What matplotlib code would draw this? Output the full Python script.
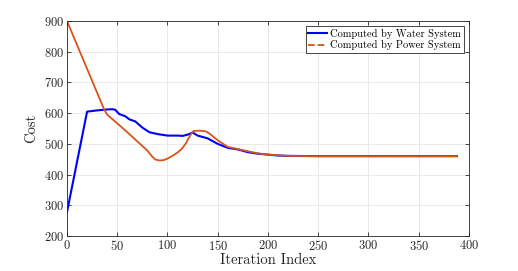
import matplotlib
matplotlib.use('Agg')
import matplotlib.pyplot as plt
from matplotlib.lines import Line2D

plt.rcParams['font.family'] = ['cmr10', 'DejaVu Serif']
plt.rcParams['axes.formatter.use_mathtext'] = True
plt.rcParams['mathtext.fontset'] = 'cm'

# 数据
water_x = [0, 20, 30, 40, 45, 48, 52, 58, 62, 68, 75, 82, 90, 100, 110, 115, 120,
           125, 130, 140, 150, 160, 170, 180, 190, 200, 210, 220, 250, 300, 388]
water_y = [278, 605, 609, 612, 613, 611, 597, 590, 580, 573, 553, 538, 532, 527, 527,
           526, 530, 537, 527, 518, 500, 487, 482, 473, 468, 465, 462, 461, 460, 460, 460]

power_x = [0, 37, 40, 50, 60, 70, 80, 85, 88, 92, 96, 100, 105, 110, 114, 118, 121,
           124, 126, 132, 138, 142, 150, 160, 170, 180, 190, 200, 220, 250, 300, 388]
power_y = [900, 612, 595, 567, 538, 508, 478, 458, 449, 446, 447, 452, 461, 472, 483,
           500, 518, 535, 542, 543, 541, 533, 512, 490, 483, 476, 469, 465, 461, 460,
           460, 460]

blue = (0, 0, 1)
orange = (0.85, 0.325, 0.098)

fig = plt.figure(figsize=(5.18, 2.71), dpi=100)
ax = fig.add_axes([0.1293, 0.129, 0.7761, 0.7935])

ax.plot(water_x, water_y, color=blue, lw=1.5)
ax.plot(power_x, power_y, color=orange, lw=1.3)

ax.set_xlim(0, 400)
ax.set_ylim(200, 900)
ax.set_xticks(range(0, 401, 50))
ax.set_yticks(range(200, 901, 100))
ax.grid(True, color='#e6e6e6', lw=0.6)
ax.set_axisbelow(True)
ax.tick_params(direction='in', top=True, right=True, length=3, width=0.6,
               labelsize=9, colors='#262626', pad=2)
for s in ax.spines.values():
    s.set_color('#262626')
    s.set_linewidth(0.6)

ax.set_xlabel('Iteration Index', fontsize=10.5, color='#262626', labelpad=0)
ax.set_ylabel('Cost', fontsize=10.5, color='#262626', labelpad=4)

handles = [Line2D([], [], color=blue, lw=1.5),
           Line2D([], [], color=orange, lw=1.3, ls='--')]
leg = ax.legend(handles, ['Computed by Water System', 'Computed by Power System'],
                loc='upper right', fontsize=7.5, fancybox=False, framealpha=1,
                edgecolor='#262626', handlelength=1.8, handletextpad=0.3,
                borderpad=0.25, labelspacing=0.15, borderaxespad=0.5)
leg.get_frame().set_linewidth(0.6)

plt.savefig('out.png', dpi=100)
plt.close()
